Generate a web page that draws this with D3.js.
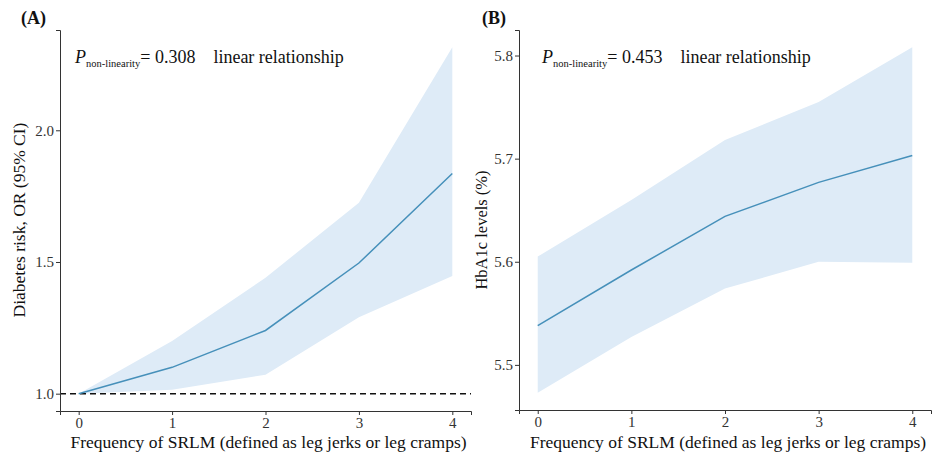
<!doctype html>
<html lang="en">
  <head>
    <meta charset="utf-8">
    <script src="https://d3js.org/d3.v7.min.js"></script>
    <title>SRLM and diabetes</title>
    <style>
      body { margin: 0; background: #fff; }
      svg text { font-family: "Liberation Serif", "DejaVu Serif", serif; fill: #111; }
      .axis path, .axis line { stroke: #333; stroke-width: 1; }
      .axis text { font-size: 15px; fill: #333; }
    </style>
  </head>
  <body>
    <svg width="940" height="457"></svg>

    <script>
      // x categories: frequency of SRLM
      const freq = [0, 1, 2, 3, 4];
      const xTicks = [0, 1, 2, 3, 4];

      // Panel A: diabetes risk, OR (95% CI)
      const orEst = [1.0, 1.10, 1.24, 1.496, 1.836];
      const orLow = [1.0, 1.015, 1.072, 1.29, 1.447];
      const orHigh = [1.0, 1.20, 1.44, 1.725, 2.315];
      const orTicks = [1.0, 1.5, 2.0];

      // Panel B: HbA1c levels (%)
      const hbEst = [5.538, 5.592, 5.644, 5.677, 5.703];
      const hbLow = [5.473, 5.527, 5.574, 5.600, 5.599];
      const hbHigh = [5.605, 5.660, 5.718, 5.755, 5.808];
      const hbTicks = [5.5, 5.6, 5.7, 5.8];

      const svg = d3.select("svg");
      const lineColor = "#4690ba";
      const bandColor = "#deebf7";

      function expand(lo, hi) {
        const pad = (hi - lo) * 0.05;
        return [lo - pad, hi + pad];
      }

      function drawPanel(opts) {
        const g = svg.append("g");
        const x = d3.scaleLinear().domain(expand(0, 4)).range([opts.left, opts.right]);
        const lo = d3.min(opts.low), hi = d3.max(opts.high);
        const y = d3.scaleLinear().domain(expand(lo, hi)).range([opts.bottom, opts.top]);

        const pts = freq.map((f, i) => ({ f, est: opts.est[i], low: opts.low[i], high: opts.high[i] }));

        g.append("path")
          .datum(pts)
          .attr("fill", bandColor)
          .attr("d", d3.area().x(d => x(d.f)).y0(d => y(d.low)).y1(d => y(d.high)));

        if (opts.refLine != null) {
          g.append("line")
            .attr("x1", opts.left).attr("x2", opts.right)
            .attr("y1", y(opts.refLine)).attr("y2", y(opts.refLine))
            .attr("stroke", "#111").attr("stroke-width", 1.4)
            .attr("stroke-dasharray", "6,4");
        }

        g.append("path")
          .datum(pts)
          .attr("fill", "none")
          .attr("stroke", lineColor)
          .attr("stroke-width", 1.5)
          .attr("d", d3.line().x(d => x(d.f)).y(d => y(d.est)));

        g.append("g")
          .attr("class", "axis")
          .attr("transform", `translate(0,${opts.bottom})`)
          .call(d3.axisBottom(x).tickValues(xTicks).tickFormat(d3.format("d")).tickSizeOuter(0).tickSize(4).tickPadding(2));

        g.append("g")
          .attr("class", "axis")
          .attr("transform", `translate(${opts.left},0)`)
          .call(d3.axisLeft(y).tickValues(opts.yTicks).tickFormat(d3.format(".1f")).tickSizeOuter(0).tickSize(4).tickPadding(2));

        // axis titles
        g.append("text")
          .attr("x", (opts.left + opts.right) / 2 + 3)
          .attr("y", 448)
          .attr("text-anchor", "middle")
          .attr("font-size", 17.5)
          .text("Frequency of SRLM (defined as leg jerks or leg cramps)");

        g.append("text")
          .attr("transform", `translate(${opts.yTitleX},${opts.yTitleY}) rotate(-90)`)
          .attr("text-anchor", "middle")
          .attr("font-size", opts.yTitleSize)
          .text(opts.yTitle);

        // panel tag
        g.append("text")
          .attr("x", opts.tagX).attr("y", 24)
          .attr("font-size", 18).attr("font-weight", "bold")
          .text(opts.tag);

        // non-linearity note
        const note = g.append("text")
          .attr("x", opts.noteX).attr("y", 63)
          .attr("font-size", 18);
        note.append("tspan").attr("font-style", "italic").text("P");
        note.append("tspan").attr("font-size", 10.5).attr("dy", 4).text("non-linearity");
        note.append("tspan").attr("dy", -4).text("= " + opts.pValue + "\u2002\u2002linear relationship");
      }

      drawPanel({
        left: 60, right: 471, top: 30, bottom: 411,
        est: orEst, low: orLow, high: orHigh, yTicks: orTicks,
        refLine: 1.0, yTitle: "Diabetes risk, OR (95% CI)", yTitleX: 25, yTitleY: 220, yTitleSize: 17.5,
        tag: "(A)", tagX: 21, noteX: 75, pValue: "0.308"
      });

      drawPanel({
        left: 519, right: 931, top: 30, bottom: 410,
        est: hbEst, low: hbLow, high: hbHigh, yTicks: hbTicks,
        refLine: null, yTitle: "HbA1c levels (%)", yTitleX: 487, yTitleY: 230, yTitleSize: 16.5,
        tag: "(B)", tagX: 482, noteX: 542, pValue: "0.453"
      });
    </script>
  </body>
</html>
